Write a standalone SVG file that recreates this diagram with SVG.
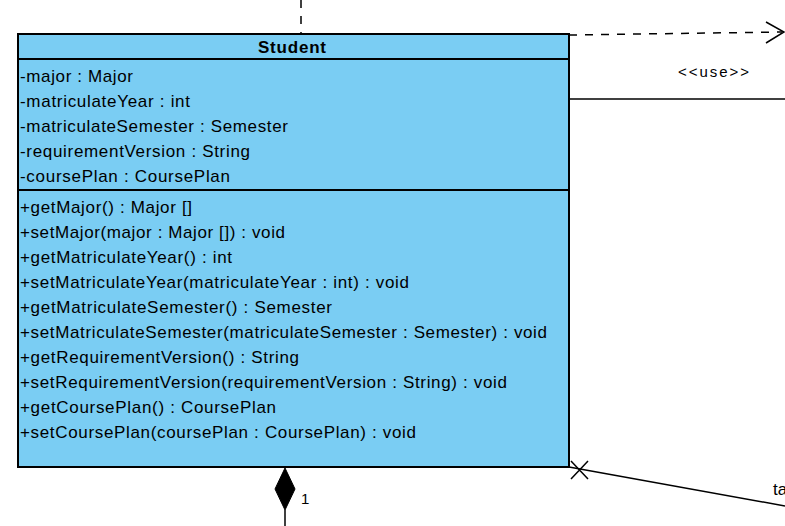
<svg xmlns="http://www.w3.org/2000/svg" width="785" height="526" viewBox="0 0 785 526">
<style>
.cls{fill:#7acdf3;stroke:#000;stroke-width:2}
.sep{stroke:#000;stroke-width:2}
.t{font-family:"Liberation Sans",Arial,sans-serif;font-size:17px;fill:#000}
.title{font-family:"Liberation Sans",Arial,sans-serif;font-size:17px;font-weight:bold;fill:#000}
.lbl{font-family:"Liberation Sans",Arial,sans-serif;font-size:15px;fill:#000}
.line{stroke:#000;stroke-width:1.5;fill:none}
.dash{stroke:#000;stroke-width:1.5;fill:none;stroke-dasharray:8,8}
</style>
<rect width="785" height="526" fill="#fff"/>
<g id="connectors">
<path class="dash" d="M301,0 V33"/>
<path class="dash" d="M569,35 L782,32"/>
<path class="line" d="M766,22 L784,32 L766,43"/>
<text class="lbl" x="678" y="77" textLength="71">&lt;&lt;use&gt;&gt;</text>
<path class="line" d="M569,99 H785"/>
<path d="M285,468 L295,489 L285,510 L275,489 Z" fill="#000" stroke="#000" stroke-width="1"/>
<path class="line" d="M285,510 V526"/>
<text class="lbl" x="301" y="504">1</text>
<path class="line" d="M569,467 L785,506"/>
<path class="line" d="M571,461 L588,479 M571,479 L588,461"/>
<text class="t" x="773" y="495">ta</text>
</g>
<g id="Student">
<rect class="cls" x="18" y="34" width="551" height="433"/>
<line class="sep" x1="18" y1="59" x2="569" y2="59"/>
<line class="sep" x1="18" y1="190" x2="569" y2="190"/>
<text class="title" x="258" y="53" textLength="68">Student</text>
<text class="t" x="20" y="82" textLength="113">-major : Major</text>
<text class="t" x="20" y="107" textLength="170">-matriculateYear : int</text>
<text class="t" x="20" y="132" textLength="268">-matriculateSemester : Semester</text>
<text class="t" x="20" y="157" textLength="230">-requirementVersion : String</text>
<text class="t" x="20" y="182" textLength="210">-coursePlan : CoursePlan</text>
<text class="t" x="20" y="213" textLength="172">+getMajor() : Major []</text>
<text class="t" x="20" y="238" textLength="265">+setMajor(major : Major []) : void</text>
<text class="t" x="20" y="263" textLength="212">+getMatriculateYear() : int</text>
<text class="t" x="20" y="288" textLength="389">+setMatriculateYear(matriculateYear : int) : void</text>
<text class="t" x="20" y="313" textLength="312">+getMatriculateSemester() : Semester</text>
<text class="t" x="20" y="338" textLength="527">+setMatriculateSemester(matriculateSemester : Semester) : void</text>
<text class="t" x="20" y="363" textLength="279">+getRequirementVersion() : String</text>
<text class="t" x="20" y="388" textLength="487">+setRequirementVersion(requirementVersion : String) : void</text>
<text class="t" x="20" y="413" textLength="256">+getCoursePlan() : CoursePlan</text>
<text class="t" x="20" y="438" textLength="396">+setCoursePlan(coursePlan : CoursePlan) : void</text>
</g>
</svg>
